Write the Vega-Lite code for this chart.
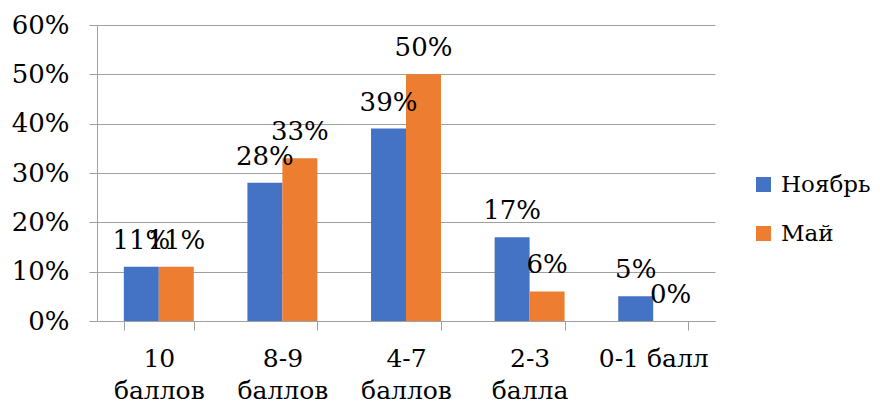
{
  "$schema": "https://vega.github.io/schema/vega-lite/v6.json",
  "width": 618,
  "height": 296,
  "autosize": {"type": "none"},
  "padding": {"left": 97, "top": 25, "right": 165, "bottom": 84},
  "background": "white",
  "config": {
    "font": "DejaVu Serif",
    "view": {"stroke": null}
  },
  "data": {
    "values": [
      {"cat": "10|баллов", "series": "Ноябрь", "value": 0.11},
      {"cat": "10|баллов", "series": "Май", "value": 0.11},
      {"cat": "8-9|баллов", "series": "Ноябрь", "value": 0.28},
      {"cat": "8-9|баллов", "series": "Май", "value": 0.33},
      {"cat": "4-7|баллов", "series": "Ноябрь", "value": 0.39},
      {"cat": "4-7|баллов", "series": "Май", "value": 0.50},
      {"cat": "2-3|балла", "series": "Ноябрь", "value": 0.17},
      {"cat": "2-3|балла", "series": "Май", "value": 0.06},
      {"cat": "0-1 балл", "series": "Ноябрь", "value": 0.05},
      {"cat": "0-1 балл", "series": "Май", "value": 0.0}
    ]
  },
  "encoding": {
    "x": {
      "field": "cat",
      "type": "nominal",
      "sort": null,
      "scale": {"paddingInner": 0.434, "paddingOuter": 0.217},
      "axis": {
        "title": null,
        "labelAngle": 0,
        "labelExpr": "split(datum.label, '|')",
        "labelFont": "DejaVu Serif",
        "labelFontSize": 25,
        "labelColor": "#000000",
        "labelLineHeight": 32,
        "labelBaseline": "top",
        "labelPadding": 16,
        "labelLimit": 200,
        "tickBand": "extent",
        "tickSize": 9,
        "tickColor": "#a0a0a0",
        "domainColor": "#a0a0a0",
        "grid": false
      }
    },
    "xOffset": {"field": "series", "type": "nominal", "sort": ["Ноябрь", "Май"], "scale": {"paddingInner": 0, "paddingOuter": 0}},
    "y": {
      "field": "value",
      "type": "quantitative",
      "scale": {"domain": [0, 0.6], "nice": false},
      "axis": {
        "title": null,
        "values": [0, 0.1, 0.2, 0.3, 0.4, 0.5, 0.6],
        "format": ".0%",
        "labelFont": "DejaVu Serif",
        "labelFontSize": 26,
        "labelColor": "#000000",
        "labelPadding": 20,
        "tickSize": 8,
        "tickColor": "#a0a0a0",
        "domainColor": "#a0a0a0",
        "gridColor": "#a0a0a0",
        "grid": true
      }
    }
  },
  "layer": [
    {
      "mark": {"type": "bar"},
      "encoding": {
        "color": {
          "field": "series",
          "type": "nominal",
          "sort": ["Ноябрь", "Май"],
          "scale": {"domain": ["Ноябрь", "Май"], "range": ["#4472C4", "#ED7D31"]},
          "legend": {
            "title": null,
            "orient": "none",
            "legendX": 655,
            "legendY": 148,
            "symbolType": "square",
            "symbolSize": 225,
            "symbolStrokeWidth": 0,
            "labelFont": "DejaVu Serif",
            "labelFontSize": 23,
            "labelColor": "#000000",
            "labelOffset": 6,
            "rowPadding": 25,
            "labelLimit": 200
          }
        }
      }
    },
    {
      "mark": {"type": "text", "baseline": "alphabetic", "dy": -18, "fontSize": 26, "font": "DejaVu Serif", "color": "#000000"},
      "encoding": {
        "text": {"field": "value", "type": "quantitative", "format": ".0%"}
      }
    }
  ]
}
